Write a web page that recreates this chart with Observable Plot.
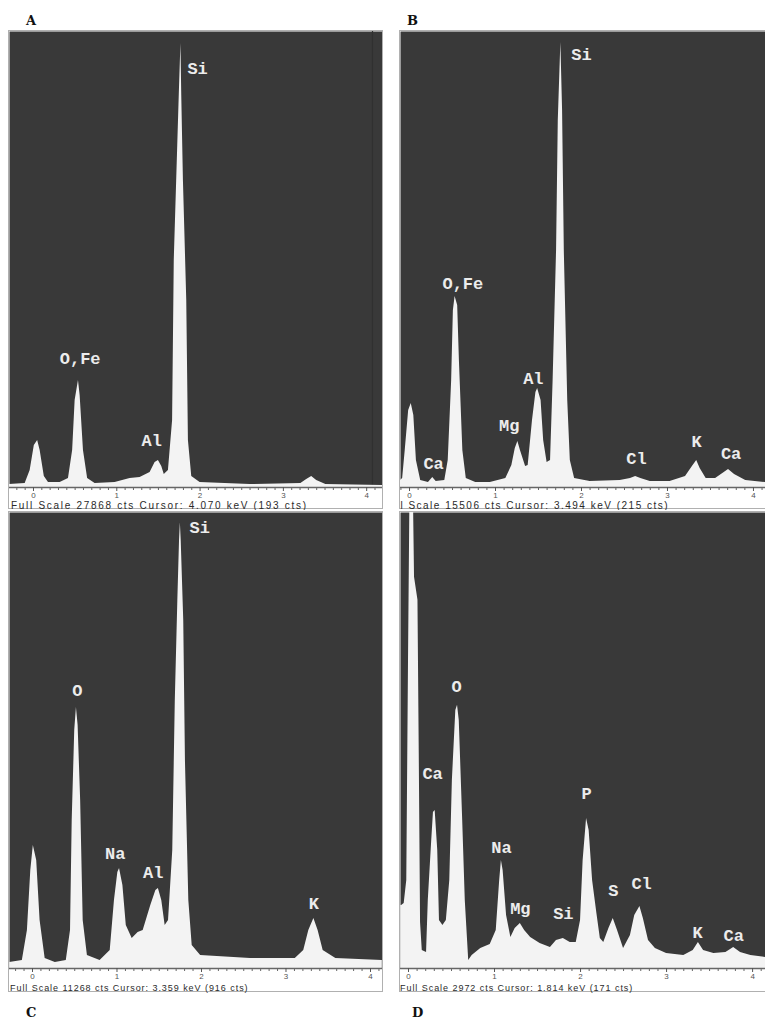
<!DOCTYPE html>
<html><head><meta charset="utf-8">
<script src="https://cdn.jsdelivr.net/npm/d3@7"></script>
<script src="https://cdn.jsdelivr.net/npm/@observablehq/plot@0.6"></script>
<style>
body{margin:0;background:#fff;width:765px;height:1019px;position:relative;overflow:hidden;font-family:"Liberation Sans",Arial,sans-serif}
.pn{position:absolute}
.letter{position:absolute;font-family:"DejaVu Serif",serif;font-weight:bold;font-size:13px;color:#111;line-height:13px}
.cap{position:absolute;color:#2a2a2a;white-space:nowrap;overflow:hidden;line-height:9px}
.box{position:absolute;border:1px solid #b0b0b0;box-sizing:border-box}
</style></head><body>
<script>
// ---- Panel A ----
const energyA = [-0.29,-0.10,-0.04,0.01,0.05,0.08,0.13,0.18,0.32,0.42,0.47,0.50,0.54,0.56,0.60,0.65,0.74,0.98,1.16,1.28,1.40,1.46,1.50,1.54,1.57,1.62,1.67,1.69,1.73,1.75,1.77,1.78,1.80,1.84,1.86,1.90,2.00,2.60,3.21,3.28,3.34,3.40,3.51,4.19];
const countsA = [183,244,1040,2570,2870,2260,670,305,305,550,2260,5320,6540,5620,2260,550,244,305,550,610,920,1530,1650,1280,800,1040,4090,13870,20590,23950,27130,23950,18760,11430,2870,670,305,183,244,490,670,430,183,120];
const labelsA = ["Si","O,Fe","Al"];
const labelEnergyA = [1.97,0.56,1.42];
const labelCountsA = [25600,7880,2870];

// ---- Panel B ----
const energyB = [-0.13,-0.08,-0.05,-0.01,0.02,0.05,0.08,0.13,0.22,0.27,0.31,0.41,0.45,0.49,0.51,0.53,0.56,0.58,0.62,0.66,0.77,0.94,1.12,1.19,1.23,1.26,1.29,1.35,1.38,1.43,1.47,1.49,1.53,1.56,1.60,1.64,1.67,1.71,1.73,1.76,1.78,1.80,1.84,1.87,1.92,2.10,2.45,2.57,2.63,2.69,2.80,3.03,3.21,3.29,3.34,3.38,3.45,3.56,3.66,3.71,3.78,3.91,4.14];
const countsB = [170,306,1258,2618,2856,2448,918,238,170,340,204,238,918,3638,6018,6494,6188,4318,1258,306,170,170,306,748,1326,1564,1258,714,748,2278,3230,3366,2958,1598,850,918,3638,8058,12478,15130,12818,8058,2958,918,306,204,238,306,374,306,204,204,374,714,918,646,306,306,510,612,442,238,170];
const labelsB = ["Si","O,Fe","Al","Mg","Ca","Cl","K","Ca"];
const labelEnergyB = [2.0,0.62,1.44,1.16,0.28,2.64,3.34,3.74];
const labelCountsB = [14720,6940,3710,2110,816,986,1564,1156];

// ---- Panel C ----
const energyC = [-0.27,-0.12,-0.06,-0.02,0.01,0.05,0.09,0.15,0.27,0.40,0.45,0.47,0.50,0.52,0.54,0.57,0.60,0.65,0.80,0.92,0.97,1.01,1.03,1.07,1.11,1.18,1.25,1.31,1.40,1.46,1.49,1.53,1.57,1.61,1.66,1.69,1.72,1.74,1.75,1.76,1.79,1.81,1.85,1.89,1.99,2.58,3.11,3.21,3.27,3.33,3.38,3.44,3.59,4.14];
const countsC = [148,198,939,2421,3038,2668,1186,247,148,198,939,3656,5879,6447,6002,4150,1186,321,198,445,1680,2371,2470,2050,1062,741,889,939,1556,1927,1976,1680,1062,1186,2915,6620,9090,10572,11016,10572,8596,5138,1680,568,321,247,247,445,939,1235,939,445,247,198];
const labelsC = ["Si","O","Na","Al","K"];
const labelEnergyC = [1.98,0.53,0.98,1.43,3.33];
const labelCountsC = [10890,6870,2840,2370,1605];

// ---- Panel D ----
const energyD = [-0.09,-0.08,-0.05,-0.02,0.00,0.015,0.06,0.07,0.11,0.125,0.14,0.16,0.21,0.23,0.27,0.29,0.31,0.34,0.36,0.40,0.44,0.48,0.51,0.55,0.57,0.59,0.63,0.66,0.70,0.74,0.84,0.95,1.02,1.06,1.08,1.10,1.14,1.19,1.24,1.30,1.35,1.42,1.53,1.65,1.72,1.80,1.88,1.95,2.00,2.03,2.07,2.10,2.14,2.19,2.23,2.27,2.33,2.38,2.43,2.50,2.58,2.63,2.69,2.73,2.79,2.87,3.00,3.20,3.31,3.37,3.43,3.55,3.69,3.78,3.86,3.98,4.15];
const countsD = [411,411,424,574,2000,2972,2972,2550,2400,1400,300,117,104,443,835,1017,1030,769,313,280,313,574,1226,1682,1715,1617,965,443,52,85,130,156,248,574,704,639,346,202,261,293,248,202,163,137,183,196,170,170,313,704,978,900,574,359,196,170,261,326,248,130,215,346,404,326,183,130,98,85,117,170,117,98,104,137,104,85,72];
const labelsD = ["Ca","O","Na","Mg","Si","P","S","Cl","K","Ca"];
const labelEnergyD = [0.28,0.56,1.08,1.30,1.80,2.07,2.38,2.71,3.36,3.78];
const labelCountsD = [1271,1839,789,391,359,1141,509,554,235,215];

const fullScale = {A:27868, B:15506, C:11268, D:2972};
const cursorKeV = {A:4.070, B:3.494, C:3.359, D:1.814};
const cursorCts = {A:193, B:215, C:916, D:171};
const majorTicks = [0,1,2,3,4];
const minorTicks = d3.range(-3, 43).map(i => i / 10);

function panel(o) {
  const spec = o.energy.map((e, i) => ({e, c: o.counts[i]}));
  const lab = o.labels.map((t, i) => ({t, e: o.labelE[i], c: o.labelC[i]}));
  const minor = minorTicks.filter(t => t >= o.domain[0] && t <= o.domain[1] && !majorTicks.includes(Math.round(t*10)/10));
  const chart = Plot.plot({
    width: o.width, height: 456 + 14,
    marginTop: 0, marginRight: 0, marginLeft: 0, marginBottom: 14,
    x: {domain: o.domain, label: null},
    y: {domain: [0, o.full], axis: null, label: null},
    style: {background: "transparent", fontFamily: "Liberation Sans, sans-serif"},
    marks: [
      Plot.frame({fill: "#393939", stroke: null}),
      o.showCursor ? Plot.ruleX([o.cursor], {stroke: "#303030", strokeWidth: 1.2}) : null,
      Plot.areaY(spec, {x: "e", y: "c", fill: "#f3f3f3", curve: "linear"}),
      Plot.text(lab, {x: "e", y: "c", text: "t", fill: "#ececec", fontFamily: "Liberation Mono, monospace", fontWeight: "bold", fontSize: 17}),
      Plot.ruleY([0], {stroke: "#666", strokeWidth: 1.5}),
      Plot.axisX({ticks: minor, tickSize: 3, tickFormat: () => "", stroke: "#666", label: null}),
      Plot.axisX({ticks: majorTicks, tickSize: 4, tickPadding: 1, fontSize: 8, fill: "#555", stroke: "#555", tickFormat: d3.format("d"), label: null})
    ]
  });
  const wrap = document.createElement("div");
  wrap.className = "pn";
  wrap.style.left = o.left + "px";
  wrap.style.top = o.top + "px";
  wrap.appendChild(chart);
  document.body.appendChild(wrap);

  const box = document.createElement("div");
  box.className = "box";
  box.style.left = (o.left - 1) + "px";
  box.style.top = (o.top - 1) + "px";
  box.style.width = (o.width + 2) + "px";
  box.style.height = (o.boxH) + "px";
  document.body.appendChild(box);

  const cap = document.createElement("div");
  cap.className = "cap";
  cap.style.left = o.left + "px";
  cap.style.top = o.capTop + "px";
  cap.style.width = o.width + "px";
  cap.style.fontSize = o.capSize + "px";
  cap.style.letterSpacing = o.capSpacing + "px";
  const inner = document.createElement("span");
  inner.style.position = "relative";
  inner.style.left = o.capShift + "px";
  inner.textContent = `Full Scale ${o.full} cts  Cursor: ${o.cursor.toFixed(3)} keV (${o.cursorCts} cts)`;
  cap.appendChild(inner);
  document.body.appendChild(cap);

  const L = document.createElement("div");
  L.className = "letter";
  L.style.left = o.letterX + "px";
  L.style.top = o.letterY + "px";
  L.textContent = o.letter;
  document.body.appendChild(L);
}

panel({letter:"A", letterX:26, letterY:14, energy:energyA, counts:countsA, labels:labelsA, labelE:labelEnergyA, labelC:labelCountsA,
  full:fullScale.A, cursor:cursorKeV.A, cursorCts:cursorCts.A, showCursor:true, domain:[-0.288, 4.19], width:373, left:9, top:31,
  capTop:501, capSize:10, capSpacing:1.7, capShift:2, boxH:479});
panel({letter:"B", letterX:407, letterY:14, energy:energyB, counts:countsB, labels:labelsB, labelE:labelEnergyB, labelC:labelCountsB,
  full:fullScale.B, cursor:cursorKeV.B, cursorCts:cursorCts.B, showCursor:false, domain:[-0.105, 4.14], width:365, left:400, top:31,
  capTop:501, capSize:10, capSpacing:1.5, capShift:-18, boxH:479});
panel({letter:"C", letterX:26, letterY:1006, energy:energyC, counts:countsC, labels:labelsC, labelE:labelEnergyC, labelC:labelCountsC,
  full:fullScale.C, cursor:cursorKeV.C, cursorCts:cursorCts.C, showCursor:false, domain:[-0.272, 4.142], width:373, left:9, top:512,
  capTop:984, capSize:9, capSpacing:0.95, capShift:1, boxH:481});
panel({letter:"D", letterX:412, letterY:1006, energy:energyD, counts:countsD, labels:labelsD, labelE:labelEnergyD, labelC:labelCountsD,
  full:fullScale.D, cursor:cursorKeV.D, cursorCts:cursorCts.D, showCursor:false, domain:[-0.093, 4.15], width:365, left:400, top:512,
  capTop:984, capSize:9, capSpacing:0.95, capShift:0, boxH:481});
</script>
</body></html>
